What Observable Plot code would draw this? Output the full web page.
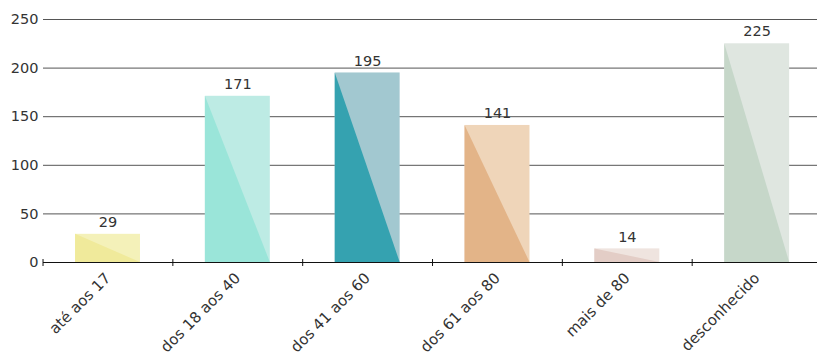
<!DOCTYPE html>
<html><head><meta charset="utf-8">
<script src="https://cdn.jsdelivr.net/npm/d3@7"></script>
<script src="https://cdn.jsdelivr.net/npm/@observablehq/plot@0.6"></script>
<style>body{margin:0;background:#fff}</style>
</head><body><div id="chart"></div>
<script>
const categories = ["até aos 17", "dos 18 aos 40", "dos 41 aos 60", "dos 61 aos 80", "mais de 80", "desconhecido"];
const values = [29, 171, 195, 141, 14, 225];
const lightColors = ["#f4f1b9", "#bdebe4", "#a2c8d0", "#efd5b9", "#efe4df", "#dfe6e0"];
const darkColors = ["#f0ea9b", "#9ae5d9", "#35a2b0", "#e3b488", "#e3cdc6", "#c6d7c9"];
const yTicks = [0, 50, 100, 150, 200, 250];

const data = categories.map((c, i) => ({cat: c, value: values[i], light: lightColors[i], dark: darkColors[i]}));

// Turn each rendered bar rect into a lower-left triangle (top-left -> bottom-right diagonal)
const triangle = (index, scales, vals, dims, ctx, next) => {
  const g = next(index, scales, vals, dims, ctx);
  if (!g) return g;
  g.querySelectorAll("rect").forEach(r => {
    const x = +r.getAttribute("x"), y = +r.getAttribute("y");
    const w = +r.getAttribute("width"), h = +r.getAttribute("height");
    const p = document.createElementNS("http://www.w3.org/2000/svg", "path");
    for (const a of r.attributes) if (!["x", "y", "width", "height"].includes(a.name)) p.setAttribute(a.name, a.value);
    p.setAttribute("d", `M${x},${y + h}L${x},${y}L${x + w},${y + h}Z`);
    r.replaceWith(p);
  });
  return g;
};

const chart = Plot.plot({
  width: 817,
  height: 358,
  marginLeft: 43,
  marginRight: 0,
  marginTop: 19,
  marginBottom: 96,
  style: {fontFamily: "DejaVu Sans", fontSize: "14px", color: "#333"},
  x: {domain: categories, range: [42.6, 821.6], paddingInner: 0.5, paddingOuter: 0.25, round: false, label: null},
  y: {domain: [0, 250], label: null},
  color: {type: "identity"},
  marks: [
    Plot.ruleY(yTicks.filter(d => d > 0), {stroke: "#555", strokeWidth: 1}),
    Plot.barY(data, {x: "cat", y: "value", fill: "light"}),
    Plot.barY(data, {x: "cat", y: "value", fill: "dark", render: triangle}),
    Plot.ruleY([0], {stroke: "#111", strokeWidth: 1.2}),
    Plot.ruleX(categories, {x: d => d, y1: 0, y2: 0, insetTop: -3, insetBottom: -4, dx: -65, stroke: "#111"}),
    Plot.text(data, {x: "cat", y: "value", text: d => String(d.value), dy: -12, fill: "#333", fontSize: 14.5}),
    Plot.axisY({ticks: yTicks, tickSize: 0, tickPadding: 5, fontSize: 14.5, fill: "#333"}),
    Plot.axisX({tickSize: 0, tickRotate: -45, tickPadding: 13, fontSize: 15, fill: "#333"})
  ]
});
document.getElementById("chart").append(chart);
</script>
</body></html>
